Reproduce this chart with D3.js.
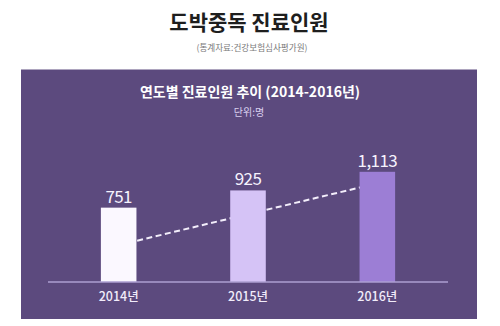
<!DOCTYPE html>
<html>
<head>
<meta charset="utf-8">
<script src="https://cdn.jsdelivr.net/npm/d3@7/dist/d3.min.js"></script>
<style>
  html, body { margin: 0; padding: 0; background: #fff; }
  svg { display: block; }
  text { font-family: "Noto Sans CJK KR", "Noto Sans", sans-serif; }
</style>
</head>
<body>
<script>
// Gambling addiction patients by year
const years = ["2014년", "2015년", "2016년"];
const patients = [751, 925, 1113];
const barColors = ["#fbf8ff", "#d5c3f6", "#9c7ed5"];
// dashed trend guide (people), one value per year
const trend = [373, 685, 997];

const W = 500, H = 326;
const svg = d3.select("body").append("svg")
  .attr("width", W).attr("height", H);

svg.append("rect").attr("width", W).attr("height", H).attr("fill", "#fff");

// Headline and source
svg.append("text")
  .attr("x", 249).attr("y", 30)
  .attr("text-anchor", "middle")
  .attr("font-size", 21).attr("font-weight", 700)
  .attr("fill", "#1e1e1e")
  .text("도박중독 진료인원");

svg.append("text")
  .attr("x", 252).attr("y", 51)
  .attr("text-anchor", "middle")
  .attr("font-size", 8.6).attr("fill", "#7a7a7a")
  .text("(통계자료:건강보험심사평가원)");

// Purple panel
const panel = { x: 21, y: 69.5, w: 456, h: 249.5 };
svg.append("rect")
  .attr("x", panel.x).attr("y", panel.y)
  .attr("width", panel.w).attr("height", panel.h)
  .attr("fill", "#5c4a7e");

svg.append("text")
  .attr("x", 250).attr("y", 97)
  .attr("text-anchor", "middle")
  .attr("font-size", 14).attr("font-weight", 700)
  .attr("fill", "#ffffff")
  .text("연도별 진료인원 추이 (2014-2016년)");

svg.append("text")
  .attr("x", 249).attr("y", 115.5)
  .attr("text-anchor", "middle")
  .attr("font-size", 10).attr("fill", "#d9cfee")
  .text("단위:명");

// Scales
const baseY = 282;
const x = d3.scaleBand()
  .domain(years)
  .range([54, 442])
  .paddingInner(0.725)
  .paddingOuter(0.3625);

const y = d3.scaleLinear()
  .domain([0, 1250])
  .range([baseY, baseY - 123.75]);

// Dashed trend line behind the bars
const line = d3.line()
  .x((d, i) => x(years[i]) + x.bandwidth() / 2)
  .y(d => y(d));

svg.append("path")
  .datum(trend)
  .attr("d", line)
  .attr("fill", "none")
  .attr("stroke", "#f3eefb")
  .attr("stroke-width", 2)
  .attr("stroke-dasharray", "6,3.5");

// Bars
svg.selectAll("rect.bar")
  .data(patients)
  .join("rect")
  .attr("class", "bar")
  .attr("x", (d, i) => x(years[i]))
  .attr("y", d => y(d))
  .attr("width", x.bandwidth())
  .attr("height", d => y(0) - y(d))
  .attr("fill", (d, i) => barColors[i]);

// Value labels
const fmt = d3.format(",");
svg.selectAll("text.val")
  .data(patients)
  .join("text")
  .attr("class", "val")
  .attr("x", (d, i) => x(years[i]) + x.bandwidth() / 2)
  .attr("y", d => y(d) - 5)
  .attr("text-anchor", "middle")
  .attr("font-size", 17)
  .attr("letter-spacing", -0.6)
  .attr("fill", "#f6f2fd")
  .text(d => fmt(d));

// Baseline axis
const axis = d3.axisBottom(x).tickSize(0).tickPadding(10);
const g = svg.append("g")
  .attr("transform", `translate(0,${baseY})`)
  .call(axis);
g.select(".domain").remove();
g.append("line")
  .attr("x1", 48).attr("x2", 448)
  .attr("stroke", "#ad9fd2").attr("stroke-width", 1.5);
g.selectAll(".tick text")
  .attr("font-family", "\"Noto Sans CJK KR\", sans-serif")
  .attr("font-size", 12.5)
  .attr("font-weight", 500)
  .attr("fill", "#f1ecfa");
</script>
</body>
</html>
